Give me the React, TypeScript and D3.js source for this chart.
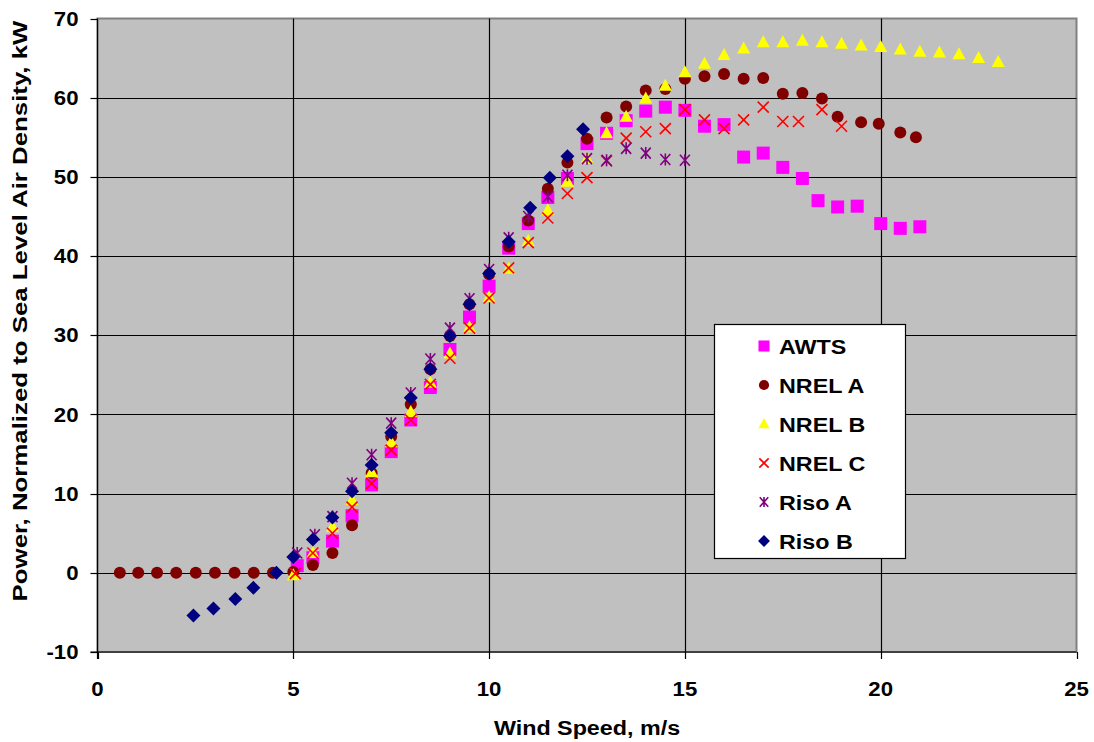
import React from "react";
import * as d3 from "d3";

const awtsX = [5.1, 5.5, 6.0, 6.5, 7.0, 7.5, 8.0, 8.5, 9.0, 9.5, 10.0, 10.5, 11.0, 11.5, 12.0, 12.5, 13.0, 13.5, 14.0, 14.5, 15.0, 15.5, 16.0, 16.5, 17.0, 17.5, 18.0, 18.4, 18.9, 19.4, 20.0, 20.5, 21.0];
const awtsY = [0.9, 1.9, 4.0, 7.2, 11.1, 15.3, 19.3, 23.4, 28.2, 32.3, 36.2, 41.0, 44.1, 47.4, 49.8, 54.2, 55.5, 57.1, 58.3, 58.8, 58.4, 56.4, 56.6, 52.5, 53.0, 51.2, 49.8, 47.0, 46.2, 46.3, 44.1, 43.5, 43.7];

const nrelAX = [0.57, 1.04, 1.52, 2.01, 2.51, 3.0, 3.5, 3.99, 4.48, 5.0, 5.5, 6.0, 6.5, 7.0, 7.5, 8.0, 8.5, 9.0, 9.5, 10.0, 10.5, 11.0, 11.5, 12.0, 12.5, 13.0, 13.5, 14.0, 14.5, 15.0, 15.5, 16.0, 16.5, 17.0, 17.5, 18.0, 18.5, 18.9, 19.5, 19.95, 20.5, 20.9];
const nrelAY = [0, 0, 0, 0, 0, 0, 0, 0, 0, 0.1, 1.0, 2.5, 6.0, 12.6, 17.2, 21.3, 25.7, 29.9, 33.9, 37.7, 41.2, 44.5, 48.5, 51.8, 54.8, 57.5, 58.9, 60.9, 61.1, 62.4, 62.7, 63.0, 62.4, 62.5, 60.5, 60.6, 59.9, 57.6, 56.9, 56.7, 55.6, 55.0];

const nrelBX = [5.0, 5.5, 6.0, 6.5, 7.0, 7.5, 8.0, 8.5, 9.0, 9.5, 10.0, 10.5, 11.0, 11.5, 12.0, 12.5, 13.0, 13.5, 14.0, 14.5, 15.0, 15.5, 16.0, 16.5, 17.0, 17.5, 18.0, 18.5, 19.0, 19.5, 20.0, 20.5, 21.0, 21.5, 22.0, 22.5, 23.0];
const nrelBY = [-0.3, 2.5, 5.8, 9.2, 12.7, 16.5, 20.3, 24.0, 27.7, 31.0, 34.8, 38.4, 41.9, 45.8, 49.4, 52.3, 55.5, 57.6, 59.9, 61.5, 63.2, 64.3, 65.4, 66.2, 67.0, 67.0, 67.2, 67.0, 66.8, 66.6, 66.4, 66.1, 65.8, 65.7, 65.5, 65.0, 64.5];

const nrelCX = [5.05, 5.5, 6.0, 6.5, 7.0, 7.5, 8.0, 8.5, 9.0, 9.5, 10.0, 10.5, 11.0, 11.5, 12.0, 12.5, 13.0, 13.5, 14.0, 14.5, 15.0, 15.5, 16.0, 16.5, 17.0, 17.5, 17.9, 18.5, 19.0];
const nrelCY = [-0.1, 2.5, 5.0, 8.3, 11.3, 15.5, 19.3, 23.8, 27.1, 30.9, 34.7, 38.5, 41.7, 44.8, 47.9, 49.9, 52.0, 54.9, 55.7, 56.1, 58.5, 57.2, 56.1, 57.2, 58.8, 57.0, 57.0, 58.5, 56.4];

const risoAX = [5.1, 5.55, 6.0, 6.5, 7.0, 7.5, 8.0, 8.5, 9.0, 9.5, 10.0, 10.5, 11.0, 11.5, 12.0, 12.5, 13.0, 13.5, 14.0, 14.5, 15.0];
const risoAY = [2.5, 4.8, 7.1, 11.3, 14.9, 18.9, 22.7, 27.0, 30.9, 34.6, 38.3, 42.3, 45.0, 47.5, 50.2, 52.3, 52.1, 53.6, 53.0, 52.2, 52.1];

const risoBX = [2.45, 2.96, 3.52, 3.98, 4.57, 5.0, 5.5, 6.0, 6.5, 7.0, 7.5, 8.0, 8.5, 9.0, 9.5, 10.0, 10.5, 11.05, 11.55, 12.0, 12.4];
const risoBY = [-5.4, -4.5, -3.3, -1.9, 0.0, 2.0, 4.2, 7.0, 10.3, 13.6, 17.7, 22.1, 25.7, 29.9, 33.9, 37.8, 41.8, 46.1, 49.9, 52.6, 56.0];

const xTicks = [0, 5, 10, 15, 20, 25];
const yTicks = [-10, 0, 10, 20, 30, 40, 50, 60, 70];

type Kind = "square" | "circle" | "triangle" | "x" | "star" | "diamond";
const seriesList: { name: string; xs: number[]; ys: number[]; kind: Kind; color: string }[] = [
  { name: "AWTS", xs: awtsX, ys: awtsY, kind: "square", color: "#FF00FF" },
  { name: "NREL A", xs: nrelAX, ys: nrelAY, kind: "circle", color: "#800000" },
  { name: "NREL B", xs: nrelBX, ys: nrelBY, kind: "triangle", color: "#FFFF00" },
  { name: "NREL C", xs: nrelCX, ys: nrelCY, kind: "x", color: "#FF0000" },
  { name: "Riso A", xs: risoAX, ys: risoAY, kind: "star", color: "#800080" },
  { name: "Riso B", xs: risoBX, ys: risoBY, kind: "diamond", color: "#000080" },
];

function SText({ x, y, rot = 0, size, sx = 1.11, anchor = "start", dy, children }: { x: number; y: number; rot?: number; size: number; sx?: number; anchor?: string; dy?: string; children: React.ReactNode }) {
  return (
    <text
      transform={`translate(${x},${y})${rot ? ` rotate(${rot})` : ""} scale(${sx},1)`}
      textAnchor={anchor as any}
      fontSize={size}
      fontWeight="bold"
      dy={dy}
    >
      {children}
    </text>
  );
}

function Marker({ kind, color, x, y, s = 1 }: { kind: Kind; color: string; x: number; y: number; s?: number }) {
  const t = `translate(${x},${y})`;
  switch (kind) {
    case "square":
      return <rect x={x - 6.5 * s} y={y - 6.5 * s} width={13 * s} height={13 * s} fill={color} />;
    case "circle":
      return <circle cx={x} cy={y} r={6 * s} fill={color} />;
    case "triangle":
      return <path transform={t} d={`M0,${-7 * s}L${6.5 * s},${5 * s}L${-6.5 * s},${5 * s}Z`} fill={color} />;
    case "x":
      return (
        <path transform={t} d={`M${-5.5 * s},${-5.5 * s}L${5.5 * s},${5.5 * s}M${-5.5 * s},${5.5 * s}L${5.5 * s},${-5.5 * s}`} stroke={color} strokeWidth={1.6} fill="none" />
      );
    case "star":
      return (
        <path
          transform={t}
          d={`M${-5 * s},${-5.5 * s}L${5 * s},${5.5 * s}M${-5 * s},${5.5 * s}L${5 * s},${-5.5 * s}M0,${-6 * s}L0,${6 * s}`}
          stroke={color}
          strokeWidth={1.6}
          fill="none"
        />
      );
    case "diamond":
      return <path transform={t} d={`M0,${-7 * s}L${7 * s},0L0,${7 * s}L${-7 * s},0Z`} fill={color} />;
  }
}

export default function App() {
  const W = 1094, H = 742;
  const left = 97.5, right = 1076.5, top = 18.5, bottom = 652;
  const x = d3.scaleLinear().domain([0, 25]).range([left, right]);
  const y = d3.scaleLinear().domain([-10, 70]).range([bottom, top]);
  const font = "'Liberation Sans', Arial, sans-serif";

  return (
    <svg width={W} height={H} style={{ position: "absolute", left: 0, top: 0 }} fontFamily={font}>
      <rect x={0} y={0} width={W} height={H} fill="#fff" />
      <rect x={left} y={top} width={right - left} height={bottom - top} fill="#C0C0C0" stroke="#808080" strokeWidth={2} />
      {yTicks.filter((v) => v > -10 && v < 70).map((v) => (
        <line key={"gy" + v} x1={left} x2={right} y1={Math.round(y(v)) + 0.5} y2={Math.round(y(v)) + 0.5} stroke="#000" strokeWidth={1.2} />
      ))}
      {xTicks.filter((v) => v > 0 && v < 25).map((v) => (
        <line key={"gx" + v} x1={Math.round(x(v)) + 0.5} x2={Math.round(x(v)) + 0.5} y1={top} y2={bottom} stroke="#000" strokeWidth={1.2} />
      ))}
      <line x1={left} x2={left} y1={top} y2={bottom + 7} stroke="#000" strokeWidth={1.2} />
      <line x1={left - 7} x2={right} y1={bottom} y2={bottom} stroke="#000" strokeWidth={1.2} />
      {yTicks.map((v) => (
        <g key={"ty" + v}>
          <line x1={left - 7} x2={left} y1={Math.round(y(v)) + 0.5} y2={Math.round(y(v)) + 0.5} stroke="#000" strokeWidth={1.2} />
          <SText x={left - 19} y={y(v)} dy="0.36em" anchor="end" size={20}>
            {v}
          </SText>
        </g>
      ))}
      {xTicks.map((v) => (
        <g key={"tx" + v}>
          <line x1={Math.round(x(v)) + 0.5} x2={Math.round(x(v)) + 0.5} y1={bottom} y2={bottom + 7} stroke="#000" strokeWidth={1.2} />
          <SText x={x(v)} y={696} anchor="middle" size={20}>
            {v}
          </SText>
        </g>
      ))}
      <SText x={587} y={735} anchor="middle" size={21}>
        Wind Speed, m/s
      </SText>
      <SText x={27} y={311} rot={-90} anchor="middle" size={20.5} sx={1.26}>
        Power, Normalized to Sea Level Air Density, kW
      </SText>
      {seriesList.map((s) => (
        <g key={s.name}>
          {s.xs.map((xv, i) => (
            <Marker key={i} kind={s.kind} color={s.color} x={x(xv)} y={y(s.ys[i])} />
          ))}
        </g>
      ))}
      <rect x={714.5} y={324.5} width={191} height={234} fill="#fff" stroke="#000" strokeWidth={1.2} />
      {seriesList.map((s, i) => (
        <g key={"lg" + s.name}>
          <Marker kind={s.kind} color={s.color} x={764} y={346 + i * 39} s={0.85} />
          <SText x={779} y={346 + i * 39} dy="0.36em" size={21}>
            {s.name}
          </SText>
        </g>
      ))}
    </svg>
  );
}
